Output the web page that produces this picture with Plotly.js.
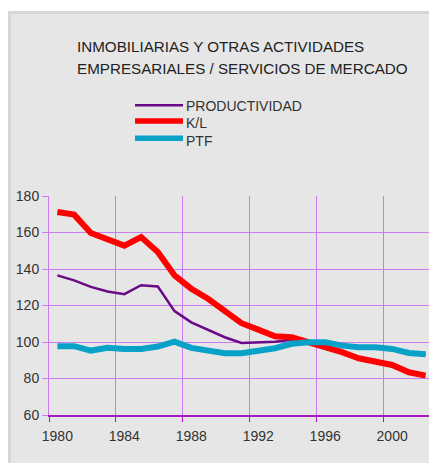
<!DOCTYPE html>
<html>
<head>
<meta charset="utf-8">
<script src="https://cdn.plot.ly/plotly-3.0.1.min.js"></script>
<style>
html,body{margin:0;padding:0;background:#ffffff;overflow:hidden;width:429px;height:463px;}
#chart{position:absolute;left:8px;top:11px;width:430px;height:449px;background:#e6e6e6;border-left:3px solid #d6d6d6;border-top:3px solid #d6d6d6;}
</style>
</head>
<body>
<div id="chart"></div>
<script>
const years = ['1980','1981','1982','1983','1984','1985','1986','1987','1988','1989','1990','1991','1992','1993','1994','1995','1996','1997','1998','1999','2000','2001','2002'];
const productividad = [136.5,133.8,130.2,127.7,126.2,131.1,130.4,116.9,110.8,106.5,102.6,99.5,99.7,100.2,101.2,100.3,99.9,98.0,97.1,97.1,96.2,94.0,93.3];
const kl = [171.2,169.8,159.7,156.0,152.8,157.5,149.3,136.5,129.2,123.7,116.9,110.3,106.8,103.1,102.6,99.9,97.7,94.4,91.1,89.3,87.4,83.4,81.6];
const ptf = [97.7,97.7,95.3,96.8,96.2,96.2,97.5,100.2,96.8,94.9,93.8,93.8,94.9,96.6,99.0,99.9,99.9,98.0,97.1,97.1,96.2,94.0,93.3];
const seriesNames = ['PRODUCTIVIDAD','K/L','PTF'];
const seriesColors = ['#6a0a88','#ff0000','#08a2c8'];
const seriesWidths = [2.5,6,6];
const titleLines = ['INMOBILIARIAS Y OTRAS ACTIVIDADES','EMPRESARIALES / SERVICIOS DE MERCADO'];
const yTicks = [60,80,100,120,140,160,180];

const font = 'Liberation Sans, Arial, Helvetica, sans-serif';
const seriesData = [productividad, kl, ptf];
const traces = seriesData.map((vals, i) => ({
  x: years, y: vals, name: seriesNames[i], type: 'scatter', mode: 'lines',
  line: {color: seriesColors[i], width: seriesWidths[i]}, showlegend: false
}));

// manual legend (rows placed to match the original layout)
const legLineY = [1.4142, 1.3425, 1.2635];
const legTextY = [1.4132, 1.3320, 1.2534];
const legendShapes = seriesNames.map((n, i) => ({
  type: 'line', xref: 'paper', yref: 'paper', x0: 0.2234, x1: 0.3481, y0: legLineY[i], y1: legLineY[i],
  line: {color: seriesColors[i], width: i === 0 ? 2.5 : 5.5}
}));
const legendText = seriesNames.map((n, i) => ({
  text: n, xref: 'paper', yref: 'paper', x: 0.351, y: legTextY[i], xanchor: 'left', yanchor: 'middle',
  showarrow: false, font: {size: 14, color: '#333333'}
}));

const layout = {
  width: 430, height: 449,
  margin: {l: 38, r: 7, t: 182, b: 48},
  paper_bgcolor: 'rgba(0,0,0,0)',
  plot_bgcolor: 'rgba(0,0,0,0)',
  font: {family: font, color: '#333333', size: 14},
  showlegend: false,
  xaxis: {
    type: 'category', range: [-0.5, 22.5], tickson: 'boundaries', dtick: 4, tickangle: 0,
    showgrid: true, gridcolor: '#cc7af2', gridwidth: 1,
    ticks: 'outside', ticklen: 5, tickcolor: '#a818c8', tickwidth: 1,
    showline: true, linecolor: '#a818c8', linewidth: 1.5,
    ticklabelstandoff: 8,
    tickfont: {size: 14, color: '#333333'},
    zeroline: false, fixedrange: true
  },
  yaxis: {
    range: [60, 180], tickvals: yTicks, ticktext: yTicks.map(String),
    showgrid: true, gridcolor: '#cc7af2', gridwidth: 1,
    ticks: 'outside', ticklen: 6, tickcolor: '#cc7af2', tickwidth: 1,
    showline: true, linecolor: '#cc7af2', linewidth: 1,
    tickfont: {size: 14, color: '#333333'},
    zeroline: false, fixedrange: true
  },
  shapes: legendShapes,
  annotations: [
    {text: titleLines[0], xref: 'paper', yref: 'paper', x: 0.0675, y: 1.682, xanchor: 'left', yanchor: 'middle', showarrow: false, font: {size: 15.2, color: '#222222'}},
    {text: titleLines[1], xref: 'paper', yref: 'paper', x: 0.0675, y: 1.583, xanchor: 'left', yanchor: 'middle', showarrow: false, font: {size: 15.2, color: '#222222'}}
  ].concat(legendText)
};
Plotly.newPlot('chart', traces, layout, {displayModeBar: false, staticPlot: true});
</script>
</body>
</html>
